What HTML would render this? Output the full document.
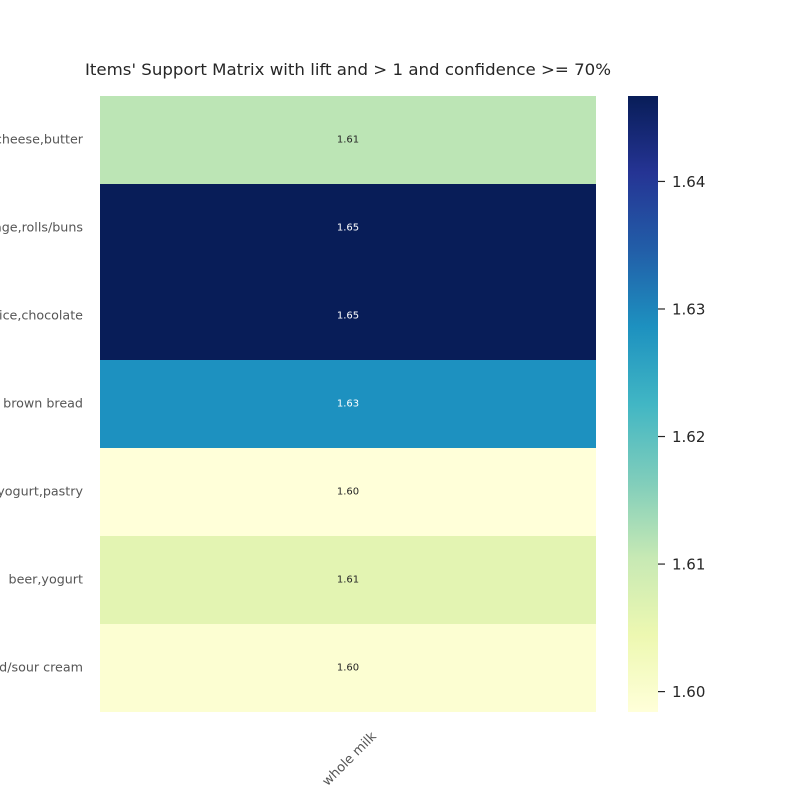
<!DOCTYPE html>
<html><head><meta charset="utf-8"><style>
body{margin:0;background:#fff}
svg{display:block;font-family:"DejaVu Sans","Liberation Sans",sans-serif}
</style></head><body>
<svg id="chart" width="800" height="800" viewBox="0 0 800 800">
<defs>
<linearGradient id="cbg" x1="0" y1="1" x2="0" y2="0">
<stop offset="0" stop-color="#ffffd9"/><stop offset="0.125" stop-color="#edf8b1"/><stop offset="0.25" stop-color="#c7e9b4"/><stop offset="0.375" stop-color="#7fcdbb"/><stop offset="0.5" stop-color="#41b6c4"/><stop offset="0.625" stop-color="#1d91c0"/><stop offset="0.75" stop-color="#225ea8"/><stop offset="0.875" stop-color="#253494"/><stop offset="1" stop-color="#081d58"/>
</linearGradient>
</defs>
<text x="348" y="75" font-size="16" textLength="526" lengthAdjust="spacingAndGlyphs" text-anchor="middle" fill="#262626">Items' Support Matrix with lift and &gt; 1 and confidence &gt;= 70%</text>
<g id="cells"></g>
<text transform="translate(377,737) rotate(-45)" font-size="13" text-anchor="end" fill="#555">whole milk</text>
<text x="348" y="812" font-size="16" text-anchor="middle" fill="#262626">Consequents</text>
<rect x="628" y="96" width="30" height="616" fill="url(#cbg)"/>
<g id="cbticks"></g>
</svg>
<script>
const antecedents=["cheese,butter","sausage,rolls/buns","juice,chocolate","brown bread","yogurt,pastry","beer,yogurt","whipped/sour cream"];
const consequents=["whole milk"];
const lift=[1.6114,1.6467,1.6467,1.6286,1.5984,1.6060,1.5994];
const cbTicks=[1.60,1.61,1.62,1.63,1.64];
const vmin=1.5984,vmax=1.6467;
const stops=["#ffffd9","#edf8b1","#c7e9b4","#7fcdbb","#41b6c4","#1d91c0","#225ea8","#253494","#081d58"];
function hex(c){return [1,3,5].map(i=>parseInt(c.substr(i,2),16));}
function color(v){let t=Math.max(0,Math.min(1,(v-vmin)/(vmax-vmin)))*8;let i=Math.min(7,Math.floor(t)),f=t-i;const a=hex(stops[i]),b=hex(stops[i+1]);return "rgb("+a.map((x,k)=>Math.round(x+(b[k]-x)*f)).join(",")+")";}
const X0=100,X1=596,Y0=96,Y1=712;
const rowH=(Y1-Y0)/antecedents.length;
const yRow=i=>Y0+i*rowH;
const yCb=v=>Y1-(v-vmin)/(vmax-vmin)*(Y1-Y0);
const NS="http://www.w3.org/2000/svg";
const g=document.getElementById('cells');
lift.forEach((v,i)=>{
 const r=document.createElementNS(NS,'rect');
 
 
 r.setAttribute('x',X0);r.setAttribute('y',yRow(i));r.setAttribute('width',X1-X0);r.setAttribute('height',rowH);r.setAttribute('fill',color(v));
 g.appendChild(r);
 const t=document.createElementNS(NS,'text');
 
 
 t.setAttribute('x',(X0+X1)/2);t.setAttribute('y',yRow(i)+rowH/2+2.5);t.setAttribute('font-size','10');t.setAttribute('text-anchor','middle');
 t.setAttribute('fill',(v-vmin)/(vmax-vmin)>0.5?'#fff':'#262626');
 t.textContent=v.toFixed(2);g.appendChild(t);
 const l=document.createElementNS(NS,'text');
 
 
 l.setAttribute('x',83);l.setAttribute('y',yRow(i)+rowH/2+3.5);l.setAttribute('font-size','12.7');l.setAttribute('text-anchor','end');l.setAttribute('fill','#555');
 l.textContent=antecedents[i];g.appendChild(l);
});
const cb=document.getElementById('cbticks');
cbTicks.forEach(v=>{
 const y=yCb(v);
 const ln=document.createElementNS(NS,'line');
 
 
 ln.setAttribute('x1',658);ln.setAttribute('x2',665);ln.setAttribute('y1',y);ln.setAttribute('y2',y);ln.setAttribute('stroke','#262626');ln.setAttribute('stroke-width','1.2');
 cb.appendChild(ln);
 const t=document.createElementNS(NS,'text');
 
 
 t.setAttribute('x',672);t.setAttribute('y',y+5.5);t.setAttribute('font-size','15');t.setAttribute('fill','#262626');
 t.textContent=v.toFixed(2);cb.appendChild(t);
});
</script>
</body></html>
